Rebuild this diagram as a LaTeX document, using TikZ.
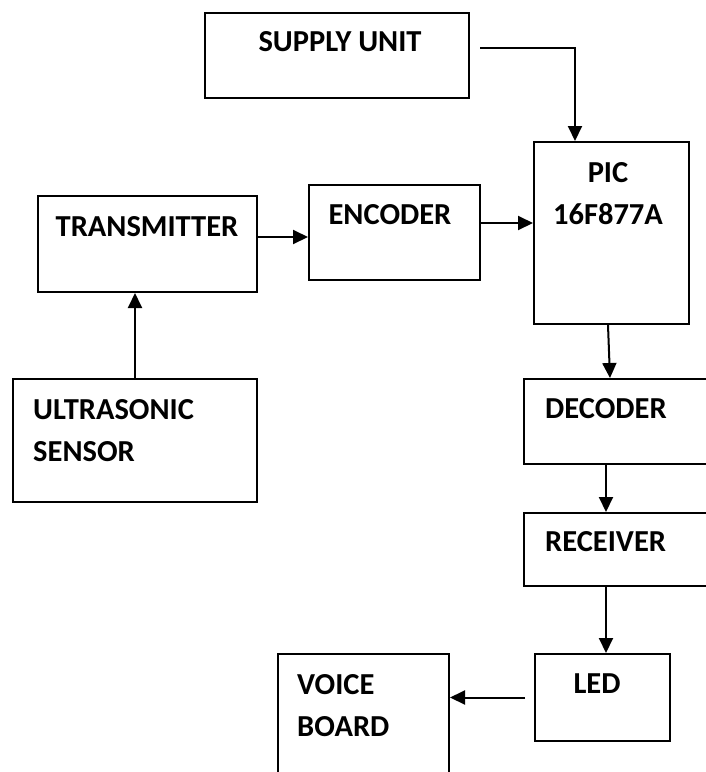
\documentclass[tikz,border=0pt]{standalone}
\usepackage{fontspec}
\setmainfont{Carlito}
\usepackage{tikz}
\usetikzlibrary{arrows.meta,calc}

\tikzset{
  block/.style={draw, line width=2pt, inner sep=0pt},
  lbl/.style={font=\bfseries\fontsize{30.5}{36}\selectfont, inner sep=0pt},
  arr/.style={line width=2pt, -{Triangle[length=15pt,width=14pt]}}
}

\begin{document}
\begin{tikzpicture}[x=1pt, y=-1pt]
  \path[use as bounding box, fill=white] (0,0) rectangle (705,772);

  \node[block, minimum width=264, minimum height=85] (supply) at (337,55.5) {};
  \node[block, minimum width=155, minimum height=182] (pic) at (611.5,233) {};
  \node[block, minimum width=219, minimum height=96] (transmitter) at (147.5,244) {};
  \node[block, minimum width=171, minimum height=95] (encoder) at (394.5,232.5) {};
  \node[block, minimum width=244, minimum height=123] (sensor) at (135,440.5) {};
  \node[block, minimum width=188, minimum height=85] (decoder) at (618,421.5) {};
  \node[block, minimum width=188, minimum height=73] (receiver) at (618,549.5) {};
  \node[block, minimum width=135, minimum height=87] (led) at (602.5,697.5) {};
  \node[block, minimum width=171, minimum height=136] (voice) at (363.5,722) {};

  \node[lbl] (supplytxt) at (340,42) {SUPPLY UNIT};
  \node[lbl] (pictxt) at (608,173) {PIC};
  \node[lbl] (pictype) at (608,214) {16F877A};
  \node[lbl] (transtxt) at (147,227) {TRANSMITTER};
  \node[lbl] (enctxt) at (390,215) {ENCODER};
  \node[lbl, anchor=west] (sensortxt) at (33,410) {ULTRASONIC};
  \node[lbl, anchor=west] (sensortxtb) at (33,452) {SENSOR};
  \node[lbl, anchor=west] (dectxt) at (545,409) {DECODER};
  \node[lbl, anchor=west] (rectxt) at (545,542) {RECEIVER};
  \node[lbl] (ledtxt) at (597,684) {LED};
  \node[lbl, anchor=west] (voicetxt) at (297,685) {VOICE};
  \node[lbl, anchor=west] (voicetxtb) at (297,727) {BOARD};

  \coordinate (supplyout) at (480,48);
  \draw[arr] (supplyout) -| ([xshift=-36.5pt]pic.north);
  \draw[arr] ([yshift=7pt]transmitter.east) -- ([yshift=7pt]transmitter.east -| encoder.west);
  \draw[arr] ([yshift=9.5pt]encoder.east) -- ([yshift=9.5pt]encoder.east -| pic.west);
  \draw[arr] (sensor.north) -- (sensor.north |- transmitter.south);
  \draw[arr] ([xshift=-3.5pt]pic.south) -- ([xshift=-8pt]decoder.north);
  \draw[arr] ([xshift=-12pt]decoder.south) -- ([xshift=-12pt]receiver.north);
  \draw[arr] ([xshift=-12pt]receiver.south) -- ([xshift=-12pt]receiver.south |- led.north);
  \draw[arr] ([xshift=-9pt]led.west) -- (led.west -| voice.east);
\end{tikzpicture}
\end{document}
